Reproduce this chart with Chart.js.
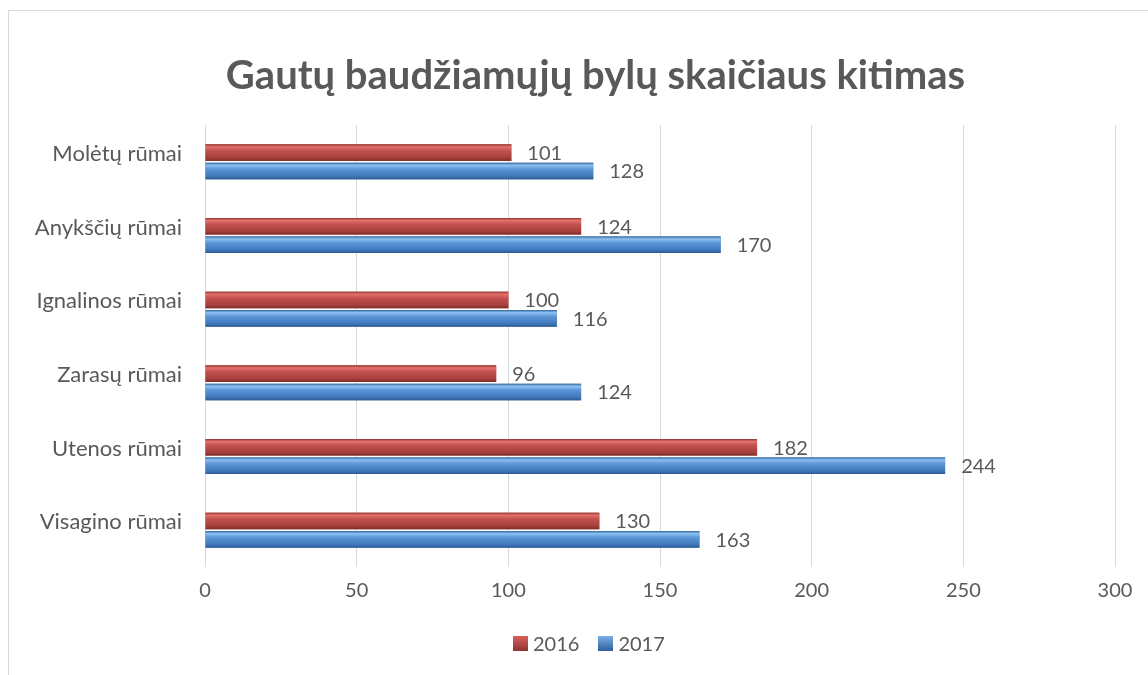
<!DOCTYPE html>
<html>
<head>
<meta charset="utf-8">
<script src="https://cdn.jsdelivr.net/npm/chart.js@4"></script>
<style>
  body { margin: 0; background: #fff; }
  #wrap { position: relative; width: 1148px; height: 675px; }
  #legend { position: absolute; top: 631px; left: 513px; font: 20px Lato, sans-serif; color: #595959; display: flex; gap: 19px; line-height: 24px; }
  #legend span { display: inline-flex; align-items: center; }
  #legend i { display: inline-block; width: 15px; height: 15px; margin-right: 5px; }
</style>
</head>
<body>
<div id="wrap">
  <canvas id="barChart" width="1148" height="675"></canvas>
  <div id="legend">
    <span><i style="background:linear-gradient(#d9605c,#8c3432)"></i>2016</span>
    <span><i style="background:linear-gradient(#7aaee6,#2f5f9a)"></i>2017</span>
  </div>
</div>
<script>
var categories = ['Molėtų rūmai', 'Anykščių rūmai', 'Ignalinos rūmai', 'Zarasų rūmai', 'Utenos rūmai', 'Visagino rūmai'];
var values2016 = [101, 124, 100, 96, 182, 130];
var values2017 = [128, 170, 116, 124, 244, 163];
var xTicks = [0, 50, 100, 150, 200, 250, 300];

var textColor = '#595959';

// glossy bars + value labels, drawn on top of the library's bar elements
var barLook = {
    id: 'barLook',
    afterLayout: function (chart) {
        // title sits a bit right of the canvas centre in the original
        chart.titleBlock.left += 38;
        chart.titleBlock.right += 38;
    },
    beforeDraw: function (chart) {
        var c = chart.ctx;
        c.save();
        c.strokeStyle = '#d9d9d9';
        c.lineWidth = 1;
        c.strokeRect(8.5, 10.5, 1200, 700);
        c.restore();
    },
    afterDatasetsDraw: function (chart) {
        var c = chart.ctx;
        var shades = [
            ['#8f3633', '#e5706c', '#c0504d', '#a8403d', '#7a2c2a'],
            ['#35679f', '#8cc0f2', '#5b94d6', '#4279be', '#2d5a8f']
        ];
        chart.data.datasets.forEach(function (ds, di) {
            var meta = chart.getDatasetMeta(di);
            var s = shades[di];
            meta.data.forEach(function (bar, i) {
                var top = bar.y - bar.height / 2;
                var h = bar.height;
                var g = c.createLinearGradient(0, top, 0, top + h);
                g.addColorStop(0, s[0]);
                g.addColorStop(0.15, s[1]);
                g.addColorStop(0.4, s[2]);
                g.addColorStop(0.8, s[3]);
                g.addColorStop(1, s[4]);
                c.save();
                c.fillStyle = g;
                c.fillRect(bar.base, top, bar.x - bar.base, h);
                c.fillStyle = textColor;
                c.font = '20px Lato, sans-serif';
                c.textAlign = 'left';
                c.textBaseline = 'middle';
                c.fillText(ds.data[i], bar.x + 16, bar.y + 1);
                c.restore();
            });
        });
    }
};

new Chart(document.getElementById('barChart'), {
    type: 'bar',
    data: {
        labels: categories,
        datasets: [
            { label: '2016', data: values2016, backgroundColor: '#c0504d', categoryPercentage: 0.5, barPercentage: 0.9 },
            { label: '2017', data: values2017, backgroundColor: '#4f81bd', categoryPercentage: 0.5, barPercentage: 0.9 }
        ]
    },
    options: {
        indexAxis: 'y',
        responsive: false,
        animation: false,
        layout: { padding: { left: 0, right: 33, top: 0, bottom: 60 } },
        plugins: {
            legend: { display: false },
            tooltip: { enabled: false },
            title: {
                display: true,
                text: 'Gautų baudžiamųjų bylų skaičiaus kitimas',
                color: textColor,
                font: { family: 'Lato, sans-serif', size: 40, weight: 'bold', lineHeight: 1.2 },
                padding: { top: 52, bottom: 25 }
            }
        },
        scales: {
            x: {
                min: 0,
                max: 300,
                afterBuildTicks: function (axis) {
                    axis.ticks = xTicks.map(function (v) { return { value: v }; });
                },
                afterFit: function (axis) { axis.paddingLeft = 0; axis.paddingRight = 0; },
                grid: { color: '#d9d9d9', drawTicks: false },
                border: { display: false },
                ticks: { color: textColor, padding: 12, font: { family: 'Lato, sans-serif', size: 20 } }
            },
            y: {
                grid: { display: false },
                border: { display: false },
                afterFit: function (axis) { axis.width = 205; },
                ticks: { color: textColor, padding: 15, labelOffset: -8, font: { family: 'Lato, sans-serif', size: 22 } }
            }
        }
    },
    plugins: [barLook]
});
</script>
</body>
</html>
